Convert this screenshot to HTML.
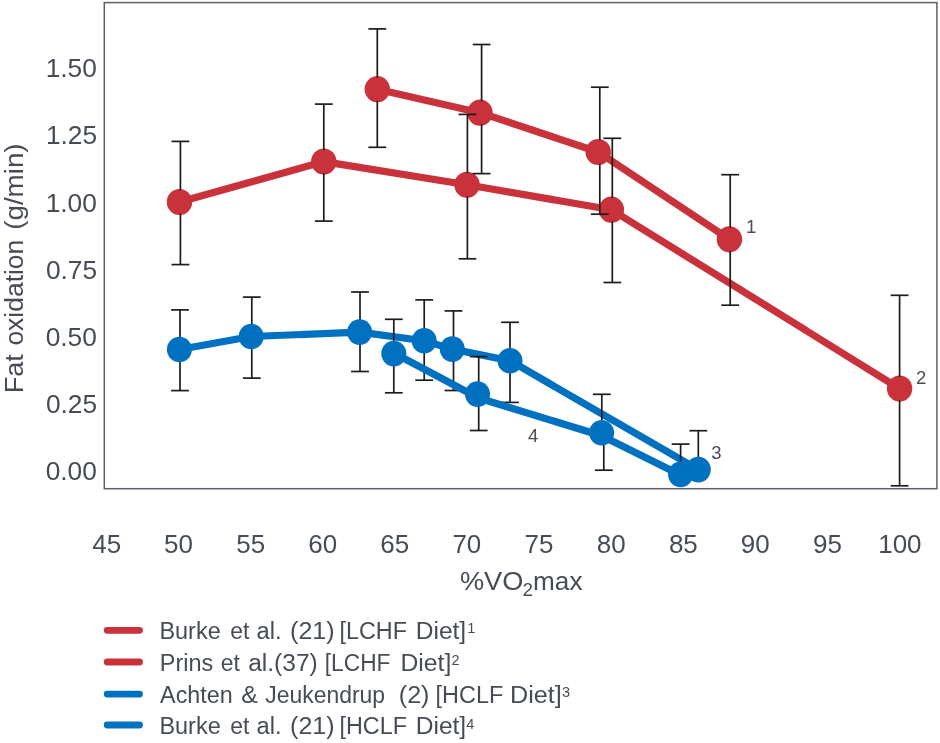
<!DOCTYPE html>
<html><head><meta charset="utf-8"><title>Fat oxidation chart</title>
<style>
html,body{margin:0;padding:0;background:#fff;}
body{width:940px;height:743px;overflow:hidden;font-family:"Liberation Sans",sans-serif;}
svg{display:block;}
</style></head><body>
<svg width="940" height="743" viewBox="0 0 940 743">
<defs><filter id="soft" x="0" y="0" width="940" height="743" filterUnits="userSpaceOnUse"><feGaussianBlur stdDeviation="0.45"/></filter></defs>
<rect width="940" height="743" fill="#fff"/>
<g filter="url(#soft)">
<rect x="104.3" y="2.6" width="832.6" height="486.1" fill="#fff" stroke="#5B606A" stroke-width="1.5"/>
<polyline points="377.3,89.2 480.0,112.7 598.2,152.0 729.4,239.3" fill="none" stroke="#C9313B" stroke-width="7.2" stroke-linejoin="round" stroke-linecap="round"/>
<polyline points="179.5,202.0 323.8,161.6 467.0,184.8 611.4,209.7 899.6,388.6" fill="none" stroke="#C9313B" stroke-width="7.2" stroke-linejoin="round" stroke-linecap="round"/>
<g fill="#C9313B"><ellipse cx="377.3" cy="89.2" rx="12.7" ry="13.1"/><ellipse cx="480.0" cy="112.7" rx="12.7" ry="13.1"/><ellipse cx="598.2" cy="152.0" rx="12.7" ry="13.1"/><ellipse cx="729.4" cy="239.3" rx="12.7" ry="13.1"/></g>
<g fill="#C9313B"><ellipse cx="179.5" cy="202.0" rx="12.7" ry="13.1"/><ellipse cx="323.8" cy="161.6" rx="12.7" ry="13.1"/><ellipse cx="467.0" cy="184.8" rx="12.7" ry="13.1"/><ellipse cx="611.4" cy="209.7" rx="12.7" ry="13.1"/><ellipse cx="899.6" cy="388.6" rx="12.7" ry="13.1"/></g>
<g stroke="#1c1c1c" stroke-width="1.7" fill="none"><path d="M377.3 28.9V77.6" /><path d="M377.3 100.8V147.3" /><path d="M368.4 28.9H386.2" /><path d="M368.4 147.3H386.2" /><path d="M481.6 44.5V101.1" /><path d="M481.6 124.3V173.6" /><path d="M472.7 44.5H490.5" /><path d="M472.7 173.6H490.5" /><path d="M599.8 87.2V140.4" /><path d="M599.8 163.6V214.2" /><path d="M590.9 87.2H608.7" /><path d="M590.9 214.2H608.7" /><path d="M730.2 174.7V227.7" /><path d="M730.2 250.9V305.2" /><path d="M721.3 174.7H739.1" /><path d="M721.3 305.2H739.1" /></g>
<g stroke="#1c1c1c" stroke-width="1.7" fill="none"><path d="M180.4 141.4V190.4" /><path d="M180.4 213.6V264.6" /><path d="M171.5 141.4H189.3" /><path d="M171.5 264.6H189.3" /><path d="M323.8 104.1V150.0" /><path d="M323.8 173.2V221.1" /><path d="M314.9 104.1H332.7" /><path d="M314.9 221.1H332.7" /><path d="M467.4 114.4V173.2" /><path d="M467.4 196.4V258.8" /><path d="M458.5 114.4H476.3" /><path d="M458.5 258.8H476.3" /><path d="M612.3 138.3V198.1" /><path d="M612.3 221.3V282.5" /><path d="M603.4 138.3H621.2" /><path d="M603.4 282.5H621.2" /><path d="M899.6 295.3V377.0" /><path d="M899.6 400.2V485.8" /><path d="M890.7 295.3H908.5" /><path d="M890.7 485.8H908.5" /></g>
<g stroke="#1c1c1c" stroke-width="1.7" fill="none"><path d="M180.0 309.9V390.6" /><path d="M171.1 309.9H188.9" /><path d="M171.1 390.6H188.9" /><path d="M251.8 297.1V378.1" /><path d="M242.9 297.1H260.7" /><path d="M242.9 378.1H260.7" /><path d="M360.0 292.0V371.5" /><path d="M351.1 292.0H368.9" /><path d="M351.1 371.5H368.9" /><path d="M424.2 299.9V380.2" /><path d="M415.3 299.9H433.1" /><path d="M415.3 380.2H433.1" /><path d="M453.5 310.9V390.5" /><path d="M444.6 310.9H462.4" /><path d="M444.6 390.5H462.4" /><path d="M510.0 322.3V402.4" /><path d="M501.1 322.3H518.9" /><path d="M501.1 402.4H518.9" /><path d="M698.3 430.7V469.6" /><path d="M689.4 430.7H707.2" /></g>
<polyline points="179.4,349.5 251.2,336.5 359.6,332.1 424.2,340.8 452.3,349.1 510.0,360.7 698.3,469.6" fill="none" stroke="#0070C0" stroke-width="7.2" stroke-linejoin="round" stroke-linecap="round"/>
<g fill="#0070C0"><ellipse cx="179.4" cy="349.5" rx="12.5" ry="12.8"/><ellipse cx="251.2" cy="336.5" rx="12.5" ry="12.8"/><ellipse cx="359.6" cy="332.1" rx="12.5" ry="12.8"/><ellipse cx="424.2" cy="340.8" rx="12.5" ry="12.8"/><ellipse cx="452.3" cy="349.1" rx="12.5" ry="12.8"/><ellipse cx="510.0" cy="360.7" rx="12.5" ry="12.8"/><ellipse cx="698.3" cy="469.6" rx="12.5" ry="12.8"/></g>
<g stroke="#1c1c1c" stroke-width="1.7" fill="none"><path d="M393.8 319.3V392.8" /><path d="M384.9 319.3H402.7" /><path d="M384.9 392.8H402.7" /><path d="M478.7 356.6V430.5" /><path d="M469.8 356.6H487.6" /><path d="M469.8 430.5H487.6" /><path d="M601.8 394.3V421.2" /><path d="M603.8 444.4V470.2" /><path d="M592.9 394.3H610.7" /><path d="M594.9 470.2H612.7" /><path d="M680.6 444.1V474.4" /><path d="M671.7 444.1H689.5" /></g>
<polyline points="393.8,353.0 478.5,398.0 601.6,435.8 680.6,474.9" fill="none" stroke="#0070C0" stroke-width="7.2" stroke-linejoin="round" stroke-linecap="round"/>
<g fill="#0070C0"><ellipse cx="393.8" cy="353.6" rx="12.5" ry="12.8"/><ellipse cx="477.5" cy="394.1" rx="12.5" ry="12.8"/><ellipse cx="601.6" cy="432.8" rx="12.5" ry="12.8"/><ellipse cx="680.6" cy="474.4" rx="12.5" ry="12.8"/></g>
<path d="M107.2 630.3H139.5" stroke="#C9313B" stroke-width="6.8" stroke-linecap="round"/>
<path d="M107.2 662.0H139.5" stroke="#C9313B" stroke-width="6.8" stroke-linecap="round"/>
<path d="M107.2 694.1H139.5" stroke="#0070C0" stroke-width="6.8" stroke-linecap="round"/>
<path d="M107.2 725.0H139.5" stroke="#0070C0" stroke-width="6.8" stroke-linecap="round"/>
<g fill="#464C57" font-family="'Liberation Sans', sans-serif"><text x="45.7" y="77.2" font-size="26" textLength="51.2" lengthAdjust="spacingAndGlyphs">1.50</text>
<text x="45.9" y="144.2" font-size="26" textLength="51.2" lengthAdjust="spacingAndGlyphs">1.25</text>
<text x="45.7" y="211.8" font-size="26" textLength="51.2" lengthAdjust="spacingAndGlyphs">1.00</text>
<text x="45.9" y="279.0" font-size="26" textLength="51.2" lengthAdjust="spacingAndGlyphs">0.75</text>
<text x="45.7" y="345.8" font-size="26" textLength="51.2" lengthAdjust="spacingAndGlyphs">0.50</text>
<text x="45.9" y="412.7" font-size="26" textLength="51.2" lengthAdjust="spacingAndGlyphs">0.25</text>
<text x="45.7" y="479.5" font-size="26" textLength="51.2" lengthAdjust="spacingAndGlyphs">0.00</text>
<text x="92.3" y="553.1" font-size="26" textLength="28.9" lengthAdjust="spacingAndGlyphs">45</text>
<text x="164.1" y="553.1" font-size="26" textLength="28.9" lengthAdjust="spacingAndGlyphs">50</text>
<text x="236.3" y="553.1" font-size="26" textLength="28.9" lengthAdjust="spacingAndGlyphs">55</text>
<text x="308.2" y="553.1" font-size="26" textLength="28.9" lengthAdjust="spacingAndGlyphs">60</text>
<text x="380.3" y="553.1" font-size="26" textLength="28.9" lengthAdjust="spacingAndGlyphs">65</text>
<text x="452.4" y="553.1" font-size="26" textLength="28.9" lengthAdjust="spacingAndGlyphs">70</text>
<text x="524.5" y="553.1" font-size="26" textLength="28.9" lengthAdjust="spacingAndGlyphs">75</text>
<text x="596.7" y="553.1" font-size="26" textLength="28.9" lengthAdjust="spacingAndGlyphs">80</text>
<text x="668.9" y="553.1" font-size="26" textLength="28.9" lengthAdjust="spacingAndGlyphs">85</text>
<text x="740.8" y="553.1" font-size="26" textLength="28.9" lengthAdjust="spacingAndGlyphs">90</text>
<text x="813.0" y="553.1" font-size="26" textLength="28.9" lengthAdjust="spacingAndGlyphs">95</text>
<text x="878.2" y="553.1" font-size="26" textLength="43.4" lengthAdjust="spacingAndGlyphs">100</text>
<text x="459.9" y="589.6" font-size="26" textLength="63.5" lengthAdjust="spacingAndGlyphs">%VO</text>
<text x="522.5" y="596.0" font-size="17.5" textLength="10.5" lengthAdjust="spacingAndGlyphs">2</text>
<text x="533.1" y="589.6" font-size="26" textLength="49.4" lengthAdjust="spacingAndGlyphs">max</text>
<text transform="translate(22.6 393.3) rotate(-90)" font-size="26" textLength="39.2" lengthAdjust="spacingAndGlyphs">Fat</text>
<text transform="translate(22.6 345.6) rotate(-90)" font-size="26" textLength="105.9" lengthAdjust="spacingAndGlyphs">oxidation</text>
<text transform="translate(22.6 229.8) rotate(-90)" font-size="26" textLength="86.4" lengthAdjust="spacingAndGlyphs">(g/min)</text>
<text x="751.2" y="233.1" text-anchor="middle" font-size="18.5">1</text>
<text x="921.2" y="383.6" text-anchor="middle" font-size="18.5">2</text>
<text x="716.5" y="459.4" text-anchor="middle" font-size="18.5">3</text>
<text x="533.1" y="441.6" text-anchor="middle" font-size="18.5">4</text>
<text x="159.4" y="638.9" font-size="23" textLength="61.3" lengthAdjust="spacingAndGlyphs">Burke</text>
<text x="230.3" y="638.9" font-size="23" textLength="19.1" lengthAdjust="spacingAndGlyphs">et</text>
<text x="256.6" y="638.9" font-size="23" textLength="25.0" lengthAdjust="spacingAndGlyphs">al.</text>
<text x="290.1" y="638.9" font-size="23" textLength="44.5" lengthAdjust="spacingAndGlyphs">(21)</text>
<text x="339.5" y="638.9" font-size="23" textLength="67.4" lengthAdjust="spacingAndGlyphs">[LCHF</text>
<text x="415.7" y="638.9" font-size="23" textLength="50.5" lengthAdjust="spacingAndGlyphs">Diet]</text>
<text x="467.3" y="633.1" font-size="14.5" textLength="8.1" lengthAdjust="spacingAndGlyphs">1</text>
<text x="159.8" y="670.9" font-size="23" textLength="53.4" lengthAdjust="spacingAndGlyphs">Prins</text>
<text x="220.7" y="670.9" font-size="23" textLength="19.1" lengthAdjust="spacingAndGlyphs">et</text>
<text x="248.2" y="670.9" font-size="23" textLength="69.6" lengthAdjust="spacingAndGlyphs">al.(37)</text>
<text x="324.8" y="670.9" font-size="23" textLength="65.7" lengthAdjust="spacingAndGlyphs">[LCHF</text>
<text x="400.5" y="670.9" font-size="23" textLength="50.8" lengthAdjust="spacingAndGlyphs">Diet]</text>
<text x="451.5" y="665.1" font-size="14.5" textLength="8.1" lengthAdjust="spacingAndGlyphs">2</text>
<text x="160.1" y="702.5" font-size="23" textLength="72.5" lengthAdjust="spacingAndGlyphs">Achten</text>
<text x="241.2" y="702.5" font-size="23" textLength="16.6" lengthAdjust="spacingAndGlyphs">&amp;</text>
<text x="265.2" y="702.5" font-size="23" textLength="119.9" lengthAdjust="spacingAndGlyphs">Jeukendrup</text>
<text x="398.8" y="702.5" font-size="23" textLength="30.7" lengthAdjust="spacingAndGlyphs">(2)</text>
<text x="435.6" y="702.5" font-size="23" textLength="67.7" lengthAdjust="spacingAndGlyphs">[HCLF</text>
<text x="510.1" y="702.5" font-size="23" textLength="51.7" lengthAdjust="spacingAndGlyphs">Diet]</text>
<text x="561.9" y="696.7" font-size="14.5" textLength="8.1" lengthAdjust="spacingAndGlyphs">3</text>
<text x="159.4" y="734.4" font-size="23" textLength="61.3" lengthAdjust="spacingAndGlyphs">Burke</text>
<text x="230.3" y="734.4" font-size="23" textLength="19.1" lengthAdjust="spacingAndGlyphs">et</text>
<text x="256.6" y="734.4" font-size="23" textLength="25.0" lengthAdjust="spacingAndGlyphs">al.</text>
<text x="290.1" y="734.4" font-size="23" textLength="44.5" lengthAdjust="spacingAndGlyphs">(21)</text>
<text x="339.5" y="734.4" font-size="23" textLength="67.4" lengthAdjust="spacingAndGlyphs">[HCLF</text>
<text x="415.7" y="734.4" font-size="23" textLength="50.5" lengthAdjust="spacingAndGlyphs">Diet]</text>
<text x="466.2" y="728.6" font-size="14.5" textLength="8.1" lengthAdjust="spacingAndGlyphs">4</text></g>
</g>
</svg>
</body></html>
